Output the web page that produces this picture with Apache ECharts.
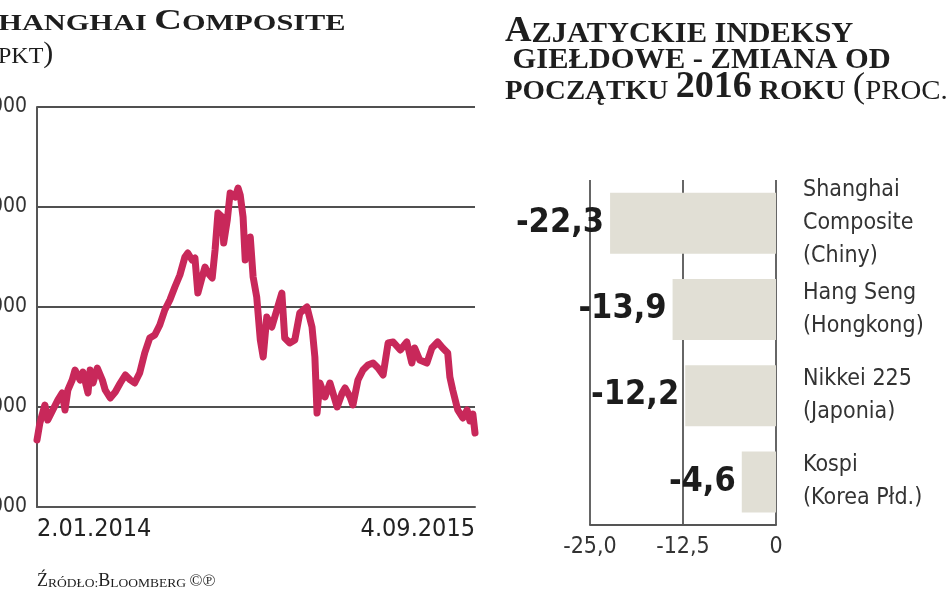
<!DOCTYPE html>
<html>
<head>
<meta charset="utf-8">
<script src="https://cdn.jsdelivr.net/npm/echarts@6/dist/echarts.min.js"></script>
<style>
html,body{margin:0;padding:0;background:#fff;}
#c{width:948px;height:593px;}
</style>
</head>
<body>
<div id="c"></div>
<script>
// ---- Shanghai Composite line (day offset from 2.01.2014, index points) ----
const lineDays = [0,4,11,15,22,29,35,39,43,49,53,60,64,71,74,78,84,91,95,102,109,116,123,130,136,143,150,157,164,171,178,185,192,199,206,210,216,220,224,230,234,238,244,248,252,258,260,265,269,276,280,283,287,290,297,301,306,311,315,320,327,334,341,345,352,359,366,376,383,387,390,394,401,408,418,425,429,436,440,447,454,461,468,475,482,489,496,506,515,522,526,533,543,550,558,565,572,575,579,586,593,599,603,607,610];
const lineValues = [1670,1840,2020,1870,1970,2070,2140,1970,2170,2270,2370,2270,2350,2140,2370,2240,2390,2270,2170,2090,2150,2240,2320,2270,2240,2340,2540,2690,2720,2820,2970,3070,3200,3320,3500,3540,3470,3490,3140,3300,3400,3340,3290,3570,3940,3900,3640,3870,4140,4100,4190,4120,3900,3470,3700,3300,3100,2670,2500,2900,2800,2970,3140,2690,2640,2670,2940,3000,2800,2500,1940,2240,2100,2240,2000,2140,2190,2100,2020,2270,2370,2420,2440,2390,2320,2640,2650,2570,2650,2440,2590,2470,2440,2590,2650,2590,2540,2300,2170,1970,1890,1970,1860,1930,1740];
const lineDateLabels = ['2.01.2014', '4.09.2015'];
const lineYTicks = [1000, 2000, 3000, 4000, 5000];

// ---- Asian indices change since start of 2016 (%) ----
const indexNames = ['Shanghai\nComposite\n(Chiny)', 'Hang Seng\n(Hongkong)', 'Nikkei 225\n(Japonia)', 'Kospi\n(Korea Płd.)'];
const indexChanges = [-22.3, -13.9, -12.2, -4.6];
const barXTicks = [-25, -12.5, 0];

const COND = "'DejaVu Sans Condensed','Liberation Sans Narrow','DejaVu Sans',sans-serif";
const SERIF = "'Liberation Serif','DejaVu Serif',serif";
const fmtPct = v => v === 0 ? '0' : v.toFixed(1).replace('.', ',');

const chart = echarts.init(document.getElementById('c'), null, {renderer: 'canvas'});

function sc(size, weight) { return {fontFamily: SERIF, fontSize: size, fontWeight: weight, fill: '#1e1e1e', verticalAlign: 'bottom'}; }

chart.setOption({
  animation: false,
  backgroundColor: '#ffffff',
  grid: [
    {left: 37, right: 473, top: 107, bottom: 86, containLabel: false, outerBoundsMode: 'none'},
    {left: 590, right: 172, top: 180, bottom: 68, containLabel: false, outerBoundsMode: 'none'}
  ],
  xAxis: [
    {
      type: 'value', gridIndex: 0, min: lineDays[0], max: lineDays[lineDays.length - 1],
      interval: lineDays[lineDays.length - 1],
      axisLine: {show: true, lineStyle: {color: '#555', width: 2}},
      axisTick: {show: false}, splitLine: {show: false},
      axisLabel: {
        formatter: v => v === lineDays[0] ? lineDateLabels[0] : lineDateLabels[1],
        alignMinLabel: 'left', alignMaxLabel: 'right',
        fontFamily: COND, fontSize: 25, color: '#222', margin: 10
      }
    },
    {
      type: 'value', gridIndex: 1, min: barXTicks[0], max: barXTicks[2], interval: 12.5,
      axisLine: {show: true, lineStyle: {color: '#555', width: 2}},
      axisTick: {show: false},
      splitLine: {show: true, lineStyle: {color: '#333', width: 1.5}},
      axisLabel: {formatter: fmtPct, fontFamily: COND, fontSize: 23, color: '#333', margin: 11}
    }
  ],
  yAxis: [
    {
      type: 'value', gridIndex: 0, min: lineYTicks[0], max: lineYTicks[lineYTicks.length - 1], interval: 1000,
      axisLine: {show: true, lineStyle: {color: '#555', width: 2}},
      axisTick: {show: false},
      splitLine: {show: true, lineStyle: {color: '#505050', width: 2}},
      axisLabel: {formatter: v => String(v), fontFamily: COND, fontSize: 21, color: '#333', margin: 10}
    },
    {
      type: 'category', gridIndex: 1, position: 'right', inverse: true, data: indexNames,
      axisLine: {show: false}, axisTick: {show: false}, splitLine: {show: false},
      axisLabel: {align: 'left', margin: 27, fontFamily: COND, fontSize: 23, lineHeight: 33, color: '#333'}
    }
  ],
  series: [
    {
      type: 'line', xAxisIndex: 0, yAxisIndex: 0,
      data: lineDays.map((d, i) => [d, lineValues[i]]),
      showSymbol: false, symbol: 'none',
      lineStyle: {color: '#c8285a', width: 7, join: 'round', cap: 'round'}
    },
    {
      type: 'bar', xAxisIndex: 1, yAxisIndex: 1,
      data: indexChanges, barWidth: 61,
      itemStyle: {color: '#e1dfd5'},
      label: {
        show: true, position: 'left', distance: 6,
        formatter: p => fmtPct(p.value),
        fontFamily: COND, fontSize: 34, fontWeight: 'bold', color: '#1c1c1c'
      }
    }
  ],
  graphic: [
    {
      type: 'text', x: -23, y: 7, scaleX: 1.32,
      style: {
        text: '{b|S}{s|HANGHAI }{b|C}{s|OMPOSITE}',
        rich: {b: sc(29, 'bold'), s: sc(23, 'bold')}
      }
    },
    {
      type: 'text', x: -12, y: 39, scaleX: 1.0,
      style: {
        text: '{p|(}{s|PKT}{p|)}',
        rich: {p: sc(30, 'normal'), s: sc(24, 'normal')}
      }
    },
    {
      type: 'text', x: 505, y: 14, scaleX: 1.05,
      style: {
        text: '{b|A}{s|ZJATYCKIE INDEKSY}',
        rich: {b: sc(35, 'bold'), s: sc(29, 'bold')}
      }
    },
    {
      type: 'text', x: 505, y: 46, scaleX: 1.05,
      style: {
        text: '{s| GIEŁDOWE - ZMIANA OD}',
        rich: {s: sc(29, 'bold')}
      }
    },
    {
      type: 'text', x: 505, y: 69, scaleX: 1.03,
      style: {
        text: '{s|POCZĄTKU }{n|2016}{s| ROKU }{p|(}{r|PROC.)}',
        rich: {s: sc(28, 'bold'), n: sc(37, 'bold'), p: sc(36, 'normal'), r: sc(28, 'normal')}
      }
    },
    {
      type: 'text', x: 37, y: 572, scaleX: 1.0,
      style: {
        text: '{b|Ź}{s|RÓDŁO:}{b|B}{s|LOOMBERG }{c|©℗}',
        rich: {b: sc(18, 'normal'), s: sc(13.5, 'normal'), c: sc(17, 'normal')}
      }
    }
  ]
});
</script>
</body>
</html>
